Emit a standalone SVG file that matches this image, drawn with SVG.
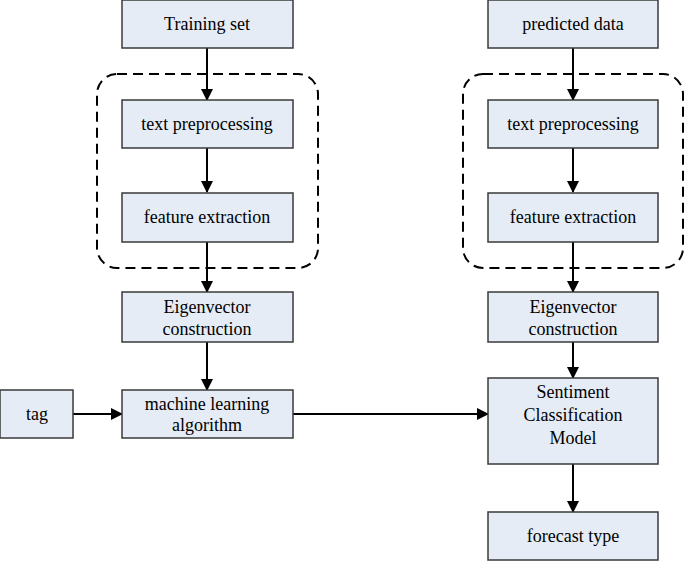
<svg xmlns="http://www.w3.org/2000/svg" width="685" height="561" viewBox="0 0 685 561">
<style>
.b{fill:#e6ecf6;stroke:#3a3a3a;stroke-width:1.5}
.d{fill:none;stroke:#000;stroke-width:2;stroke-dasharray:10,6}
.c{stroke:#000;stroke-width:2;fill:none;marker-end:url(#a)}
text{font-family:"Liberation Serif",serif;font-size:18px;text-anchor:middle;fill:#000}
</style>
<defs><marker id="a" markerWidth="12" markerHeight="12" refX="11" refY="6" orient="auto" markerUnits="userSpaceOnUse"><path d="M0,0L12,6L0,12z" fill="#000"/></marker></defs>
<rect class="d" x="97" y="74" width="221" height="194" rx="20"/>
<rect class="d" x="463" y="74" width="220" height="194" rx="20"/>
<g id="connectors">
<path class="c" d="M207,48V100"/><path class="c" d="M207,148V192"/><path class="c" d="M207,242V292"/><path class="c" d="M207,342V390"/>
<path class="c" d="M73,414H122"/><path class="c" d="M293,414H488"/>
<path class="c" d="M573,48V100"/><path class="c" d="M573,148V192"/><path class="c" d="M573,242V292"/><path class="c" d="M573,342V378"/><path class="c" d="M573,464V512"/>
</g>
<g id="n1"><rect class="b" x="122" y="0" width="171" height="48"/><text x="207" y="30">Training set</text></g>
<g id="n2"><rect class="b" x="122" y="100" width="171" height="48"/><text x="207" y="130">text preprocessing</text></g>
<g id="n3"><rect class="b" x="122" y="193" width="171" height="49"/><text x="207" y="223">feature extraction</text></g>
<g id="n4"><rect class="b" x="122" y="292" width="171" height="50"/><text x="207" y="313">Eigenvector</text><text x="207" y="335">construction</text></g>
<g id="n5"><rect class="b" x="122" y="390" width="171" height="48"/><text x="207" y="410">machine learning</text><text x="207" y="431">algorithm</text></g>
<g id="n6"><rect class="b" x="0" y="390" width="73" height="48"/><text x="37" y="420">tag</text></g>
<g id="n7"><rect class="b" x="488" y="0" width="170" height="48"/><text x="573" y="30">predicted data</text></g>
<g id="n8"><rect class="b" x="488" y="100" width="170" height="48"/><text x="573" y="130">text preprocessing</text></g>
<g id="n9"><rect class="b" x="488" y="193" width="170" height="49"/><text x="573" y="223">feature extraction</text></g>
<g id="n10"><rect class="b" x="488" y="292" width="170" height="50"/><text x="573" y="313">Eigenvector</text><text x="573" y="335">construction</text></g>
<g id="n11"><rect class="b" x="488" y="378" width="170" height="86"/><text x="573" y="398">Sentiment</text><text x="573" y="421">Classification</text><text x="573" y="444">Model</text></g>
<g id="n12"><rect class="b" x="488" y="512" width="170" height="48"/><text x="573" y="542">forecast type</text></g>
</svg>
